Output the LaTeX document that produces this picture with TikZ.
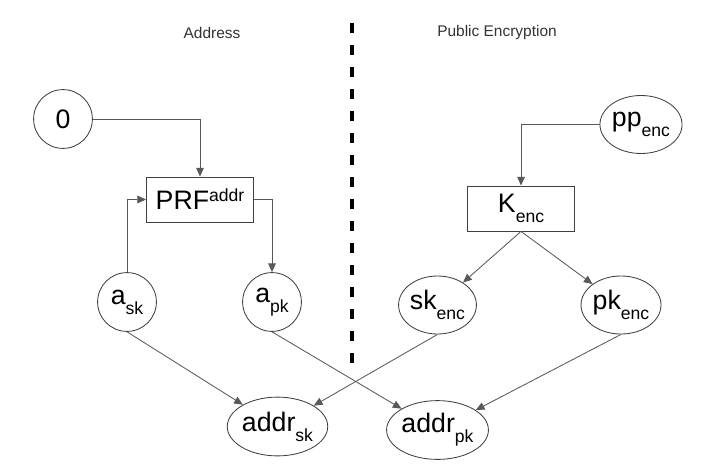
\documentclass[tikz,border=0pt]{standalone}
\usepackage{fontspec}
\setmainfont{Liberation Sans}
\usepackage{xcolor}
\usetikzlibrary{arrows.meta,shapes.geometric}

\definecolor{linegray}{HTML}{595959}
\definecolor{bordergray}{HTML}{404040}

\newcommand{\biglbl}{\fontsize{19}{22}\selectfont}
\newcommand{\smalllbl}{\fontsize{12.5}{14}\selectfont}
\newcommand{\lo}[1]{\raisebox{-0.38em}{\smalllbl #1}}
\newcommand{\hi}[1]{\raisebox{0.3em}{\smalllbl #1}}

\begin{document}
\begin{tikzpicture}[>={Triangle[length=2.2mm,width=1.9mm]},
                    line width=0.6pt,
                    round node/.style={circle,draw=bordergray,minimum size=1.47cm,inner sep=0pt,font=\biglbl},
                    oval node/.style={ellipse,draw=bordergray,minimum width=1.72cm,minimum height=1.45cm,inner sep=0pt,font=\biglbl},
                    wide oval/.style={ellipse,draw=bordergray,minimum width=2.2cm,minimum height=1.47cm,inner sep=0pt,font=\biglbl},
                    box node/.style={rectangle,draw=bordergray,minimum width=2.675cm,minimum height=1.125cm,inner sep=0pt,font=\biglbl},
                    title/.style={font=\fontsize{11}{13}\selectfont,text=black!80}]

  \useasboundingbox (0,0) rectangle (17.85,11.825);

  % headings and divider
  \node[title] (addrtitle) at (5.3,11.0) {Address};
  \node[title] (enctitle) at (12.425,11.0) {Public Encryption};
  \coordinate (divtop) at (8.8,11.25);
  \coordinate (divbot) at (8.8,2.5);
  \draw[line width=3.2pt,dash pattern=on 0.25cm off 0.3cm] (divtop) -- (divbot);

  % address side
  \node[round node] (zero) at (1.575,8.85) {0};
  \node[box node] (prf) at (5.0,6.8375) {PRF\hi{addr}};
  \node[round node] (ask) at (3.175,4.275) {a\lo{sk}};
  \node[round node] (apk) at (6.8,4.275) {a\lo{pk}};
  \node[wide oval] (addrsk) at (6.9375,1.1625) {addr\lo{sk}};
  \node[wide oval] (addrpk) at (10.9375,1.075) {addr\lo{pk}};

  % encryption side
  \node[oval node] (ppenc) at (16.025,8.7125) {pp\lo{enc}};
  \node[box node] (kenc) at (13.025,6.6125) {K\lo{enc}};
  \node[oval node] (skenc) at (10.9375,4.2) {sk\lo{enc}};
  \node[oval node] (pkenc) at (15.525,4.2) {pk\lo{enc}};

  \draw[->,linegray] (zero) -| (prf);
  \draw[->,linegray] (ask) |- (prf);
  \draw[->,linegray] (prf) -| (apk);
  \draw[->,linegray] (ppenc) -| (kenc);

  \path[->,color=linegray]
    (kenc.south) edge (skenc)
                 edge (pkenc)
    (ask.south) edge (addrsk)
    (apk.south) edge (addrpk)
    (skenc.south) edge (addrsk)
    (pkenc.south) edge (addrpk);
\end{tikzpicture}
\end{document}
